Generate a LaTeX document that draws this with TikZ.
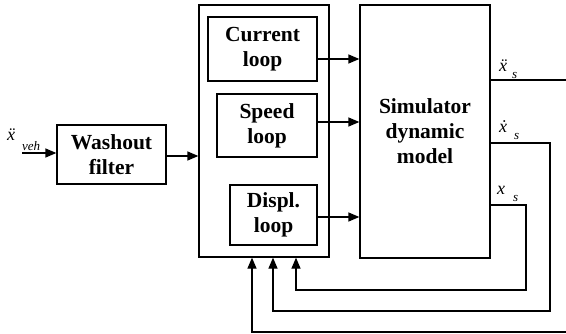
\documentclass[tikz,border=0pt]{standalone}
\usepackage{fontspec}
\setmainfont{Liberation Serif}
\usetikzlibrary{arrows.meta}
\tikzset{
  blk/.style={draw, line width=1.3pt, align=center, inner sep=0pt,
    font=\fontsize{21.5}{25}\selectfont\bfseries},
  conn/.style={line width=1.3pt},
  arr/.style={conn, -{Triangle[length=11pt,width=9pt]}},
  lbl/.style={font=\fontsize{18}{18}\selectfont\itshape, inner sep=0pt, anchor=base west},
  sub/.style={font=\fontsize{13}{13}\selectfont\itshape, inner sep=0pt, anchor=base west}
}
\begin{document}
\begin{tikzpicture}[x=1pt,y=-1pt]
\useasboundingbox (0,0) rectangle (566,333);
% blocks
\node[blk, minimum width=109pt, minimum height=59pt] (wash) at (111.5,154.5) {Washout\\filter};
\node[draw, line width=1.3pt, minimum width=130pt, minimum height=252pt, inner sep=0pt] (outer) at (264,131) {};
\node[blk, minimum width=109pt, minimum height=64pt] (cur) at (262.5,49) {Current\\loop};
\node[blk, minimum width=100pt, minimum height=63pt] (spd) at (267,125.5) {Speed\\loop};
\node[blk, minimum width=87pt, minimum height=60pt] (dsp) at (273.5,215) {Displ.\\loop};
\node[blk, minimum width=130pt, minimum height=253pt] (sim) at (425,131.5) {Simulator\\dynamic\\model};
% input
\coordinate (in) at (22,153);
\draw[arr] (in) -- (wash.west |- in);
\node[lbl] (xveh) at (7,140) {\"x};
\node[sub] (vehs) at (22,150) {veh};
\draw[arr] ([yshift=-1.5pt]wash.east) -- ([yshift=-1.5pt]wash.east -| outer.west);
% loops to simulator
\draw[arr] ([yshift=-10pt]cur.east) -- ([yshift=-10pt]cur.east -| sim.west);
\draw[arr] ([yshift=3.5pt]spd.east) -- ([yshift=3.5pt]spd.east -| sim.west);
\draw[arr] ([yshift=-2pt]dsp.east) -- ([yshift=-2pt]dsp.east -| sim.west);
% outputs and feedback
\coordinate (a1) at (570,80);
\coordinate (a2) at (570,332);
\coordinate (b1) at (550,143);
\coordinate (b2) at (550,311);
\coordinate (c1) at (526,205);
\coordinate (c2) at (526,290);
\coordinate (fa) at (252,0);
\coordinate (fb) at (273,0);
\coordinate (fc) at (296,0);
\draw[arr] (sim.east |- a1) -- (a1) -- (a2) -- (fa |- a2) -- (fa |- outer.south);
\draw[arr] (sim.east |- b1) -- (b1) -- (b2) -- (fb |- b2) -- (fb |- outer.south);
\draw[arr] (sim.east |- c1) -- (c1) -- (c2) -- (fc |- c2) -- (fc |- outer.south);
% labels
\node[lbl] (l1) at (499,71) {\"x};
\node[sub] (l1s) at (512,78) {s};
\node[lbl] (l2) at (499,132) {\.x};
\node[sub] (l2s) at (514,139) {s};
\node[lbl] (l3) at (497,194) {x};
\node[sub] (l3s) at (513,201) {s};
\end{tikzpicture}
\end{document}
